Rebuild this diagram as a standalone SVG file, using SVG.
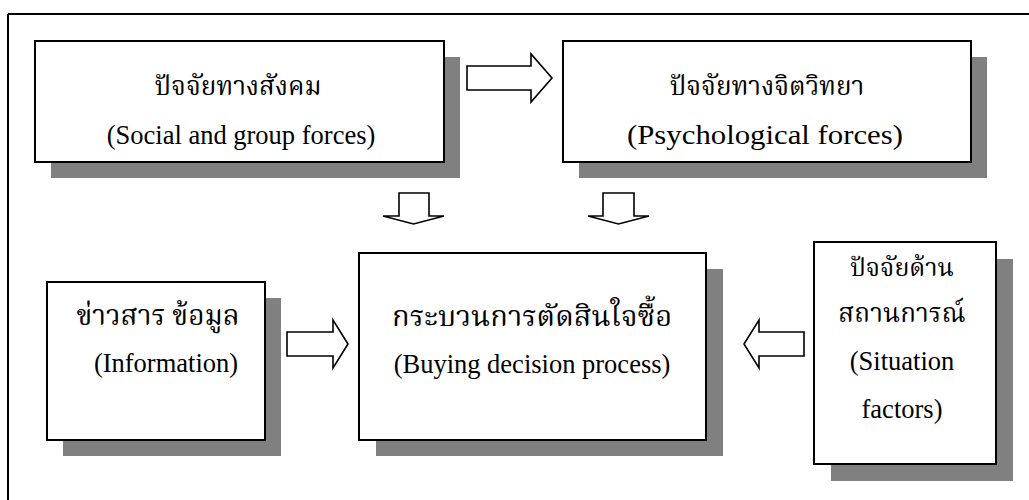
<svg xmlns="http://www.w3.org/2000/svg" width="1029" height="500" viewBox="0 0 1029 500">
<style>
.sh{fill:#808080;stroke:none}
.bx{fill:#fff;stroke:#000;stroke-width:2}
.ar{fill:#fff;stroke:#000;stroke-width:1.6;stroke-linejoin:miter}
.th{font-family:'Liberation Serif','Norasi','Kinnari','Noto Serif Thai','Laksaman','Noto Sans Thai','Garuda',serif;font-size:26px;fill:#000;text-anchor:middle}
.en{font-family:'Liberation Serif','Times New Roman',serif;font-size:26.5px;fill:#000;text-anchor:middle}
</style>
<rect width="1029" height="500" fill="#fff"/>
<g id="frame">
<path d="M8,14 H1029 M8,14 V500" stroke="#000" stroke-width="2" fill="none"/>
</g>
<g id="social">
<rect class="sh" x="51" y="57" width="409" height="121"/>
<rect class="bx" x="35" y="41" width="409" height="121"/>
<text class="th" x="238" y="95">ปัจจัยทางสังคม</text>
<text class="en" x="241" y="144">(Social and group forces)</text>
</g>
<g id="psych">
<rect class="sh" x="579" y="57" width="408" height="121"/>
<rect class="bx" x="563" y="41" width="408" height="121"/>
<text class="th" x="767" y="95">ปัจจัยทางจิตวิทยา</text>
<text class="en" x="765" y="144" style="font-size:27.5px" textLength="276" lengthAdjust="spacingAndGlyphs">(Psychological forces)</text>
</g>
<g id="info">
<rect class="sh" x="63" y="298" width="218" height="158"/>
<rect class="bx" x="47" y="282" width="218" height="158"/>
<text class="th" x="158" y="325" style="font-size:28px">ข่าวสาร ข้อมูล</text>
<text class="en" x="166" y="372">(Information)</text>
</g>
<g id="decision">
<rect class="sh" x="376" y="269" width="347" height="187"/>
<rect class="bx" x="359" y="253" width="347" height="187"/>
<text class="th" x="532" y="326" style="font-size:29px">กระบวนการตัดสินใจซื้อ</text>
<text class="en" x="532" y="373">(Buying decision process)</text>
</g>
<g id="situation">
<rect class="sh" x="831" y="259" width="182" height="222"/>
<rect class="bx" x="814" y="242" width="182" height="222"/>
<text class="th" x="902" y="276" style="font-size:25px">ปัจจัยด้าน</text>
<text class="th" x="902" y="322">สถานการณ์</text>
<text class="en" x="902" y="370">(Situation</text>
<text class="en" x="902" y="418">factors)</text>
</g>
<g id="connectors">
<polygon class="ar" points="467,66 531,66 531,54 552,78 531,102 531,90 467,90"/>
<polygon class="ar" points="399,193 429,193 429,216 444,216 413.5,224 383,216 399,216"/>
<polygon class="ar" points="603,193 634,193 634,216 649,216 618.5,224 588,216 603,216"/>
<polygon class="ar" points="287,332 333,332 333,320 348,344 333,368 333,356 287,356"/>
<polygon class="ar" points="804,332 759,332 759,320 744,344 759,368 759,356 804,356"/>
</g>
</svg>
